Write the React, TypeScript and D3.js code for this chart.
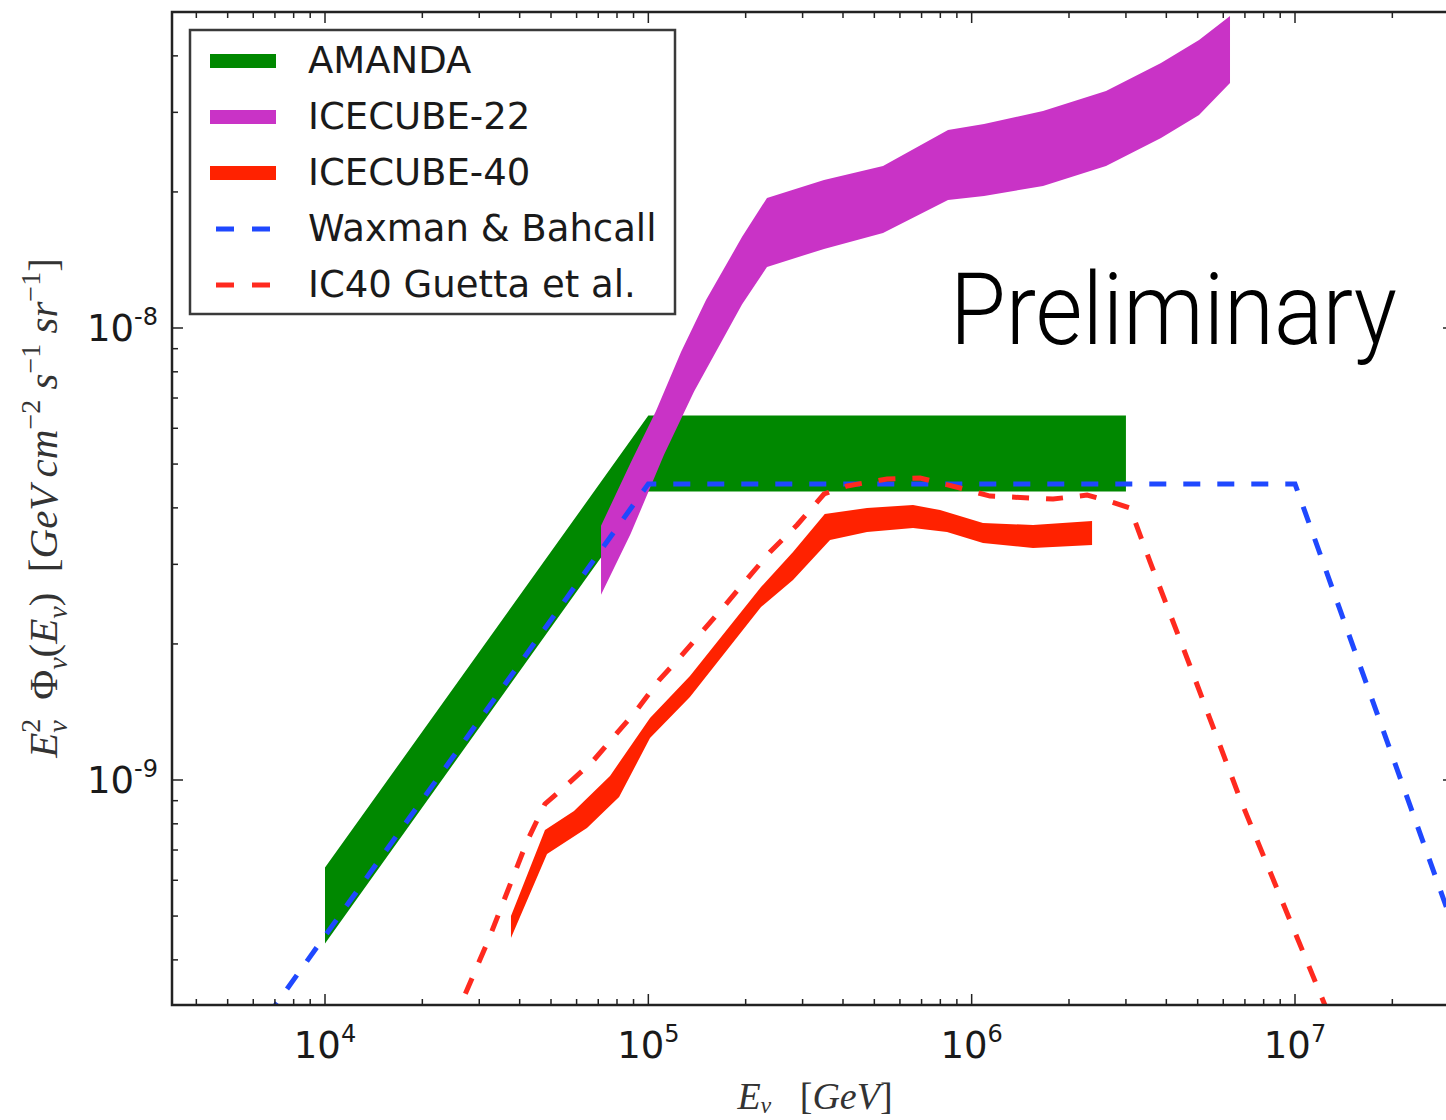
import React from "react";
import * as d3 from "d3";

// ---------- data (energy in GeV, E^2 Phi in GeV cm^-2 s^-1 sr^-1) ----------
const amandaE = [1e4, 1e5, 3e6];
const amandaHi = [6.4e-10, 6.4e-9, 6.4e-9];
const amandaLo = [4.35e-10, 4.35e-9, 4.35e-9];

const ic22UpE = [7.14e4, 8.81e4, 1.056e5, 1.262e5, 1.508e5, 1.948e5, 2.328e5, 3.494e5, 5.319e5, 8.45e5, 1.092e6, 1.662e6, 2.603e6, 3.851e6, 5.049e6, 6.295e6];
const ic22UpV = [3.65e-9, 5.03e-9, 6.55e-9, 8.85e-9, 1.153e-8, 1.589e-8, 1.94e-8, 2.125e-8, 2.283e-8, 2.742e-8, 2.827e-8, 3.021e-8, 3.344e-8, 3.857e-8, 4.337e-8, 4.9e-8];
const ic22LoE = [7.14e4, 8.81e4, 1.118e5, 1.385e5, 1.948e5, 2.328e5, 3.494e5, 5.319e5, 8.45e5, 1.092e6, 1.662e6, 2.603e6, 3.851e6, 5.049e6, 6.295e6];
const ic22LoV = [2.57e-9, 3.5e-9, 5.24e-9, 7.24e-9, 1.127e-8, 1.365e-8, 1.496e-8, 1.622e-8, 1.92e-8, 1.959e-8, 2.061e-8, 2.283e-8, 2.633e-8, 2.959e-8, 3.483e-8];

const ic40UpE = [3.76e4, 4.79e4, 5.89e4, 7.61e4, 1.012e5, 1.345e5, 2.231e5, 2.802e5, 3.513e5, 4.746e5, 6.586e5, 7.983e5, 1.084e6, 1.548e6, 2.357e6];
const ic40UpV = [5.0e-10, 7.75e-10, 8.54e-10, 1.021e-9, 1.371e-9, 1.698e-9, 2.673e-9, 3.195e-9, 3.877e-9, 3.997e-9, 4.058e-9, 3.956e-9, 3.703e-9, 3.666e-9, 3.741e-9];
const ic40LoE = [3.76e4, 4.86e4, 6.46e4, 8.12e4, 1.012e5, 1.345e5, 2.231e5, 2.802e5, 3.647e5, 4.746e5, 6.586e5, 8.389e5, 1.084e6, 1.548e6, 2.357e6];
const ic40LoV = [4.47e-10, 6.86e-10, 7.83e-10, 9.17e-10, 1.238e-9, 1.526e-9, 2.413e-9, 2.77e-9, 3.396e-9, 3.537e-9, 3.609e-9, 3.537e-9, 3.344e-9, 3.261e-9, 3.311e-9];

const wbE = [5e3, 1e5, 1e7, 1e8];
const wbV = [2.26e-10, 4.52e-9, 4.52e-9, 4.52e-11];

const guettaE = [2.47e4, 3.22e4, 4.22e4, 4.79e4, 5.68e4, 6.7e4, 9.16e4, 1.08e5, 1.262e5, 1.739e5, 2.379e5, 2.884e5, 3.495e5, 4.118e5, 5.473e5, 6.924e5, 9.21e5, 1.14e6, 1.786e6, 2.275e6, 2.586e6, 3.09e6, 3.563e6, 4.737e6, 6.765e6, 9.865e6, 1.312e7];
const guettaV = [2.87e-10, 4.47e-10, 7.33e-10, 8.85e-10, 9.85e-10, 1.096e-9, 1.421e-9, 1.664e-9, 1.88e-9, 2.451e-9, 3.195e-9, 3.666e-9, 4.293e-9, 4.472e-9, 4.634e-9, 4.657e-9, 4.425e-9, 4.248e-9, 4.184e-9, 4.27e-9, 4.163e-9, 3.996e-9, 3.037e-9, 1.787e-9, 9.08e-10, 4.71e-10, 2.87e-10];

const legendLabels = ["AMANDA", "ICECUBE-22", "ICECUBE-40", "Waxman & Bahcall", "IC40 Guetta et al."];
const watermark = "Preliminary";

// ---------- colours ----------
const GREEN = "#008800";
const MAGENTA = "#c933c6";
const RED = "#ff2200";
const BLUE = "#1f48ff";
const RED_DASH = "#ff2a1f";

const W = 1446;
const H = 1120;
const PL = 172, PR = 1454, PT = 12, PB = 1005;

export default function App() {
  const x = d3.scaleLog().domain([1e4, 1e7]).range([325, 1295]);
  const y = d3.scaleLog().domain([1e-9, 1e-8]).range([780, 328]);

  const line = d3.line<[number, number]>();
  const band = (uE: number[], uV: number[], lE: number[], lV: number[]) => {
    const up = uE.map((e, i) => [x(e), y(uV[i])] as [number, number]);
    const lo = lE.map((e, i) => [x(e), y(lV[i])] as [number, number]).reverse();
    return line(up.concat(lo)) + "Z";
  };
  const path = (es: number[], vs: number[]) =>
    line(es.map((e, i) => [x(e), y(vs[i])] as [number, number])) as string;

  // ticks
  const xMin = x.invert(PL), xMax = x.invert(PR);
  const yMin = y.invert(PB), yMax = y.invert(PT);
  const logTicks = (lo: number, hi: number) => {
    const major: number[] = [];
    const minor: number[] = [];
    for (let p = Math.floor(Math.log10(lo)); p <= Math.ceil(Math.log10(hi)); p++) {
      for (let k = 1; k <= 9; k++) {
        const v = k * Math.pow(10, p);
        if (v < lo * 0.999 || v > hi * 1.001) continue;
        if (k === 1) major.push(v);
        else minor.push(v);
      }
    }
    return { major, minor };
  };
  const xt = logTicks(xMin, xMax);
  const yt = logTicks(yMin, yMax);

  const tickColor = "#222";
  const MAJ = 11, MIN = 6;

  const sansTick = "'DejaVu Sans', 'Bitstream Vera Sans', sans-serif";
  const serif = "'Liberation Serif', 'DejaVu Serif', serif";

  return (
    <svg
      width={W}
      height={H}
      viewBox={`0 0 ${W} ${H}`}
      style={{ position: "absolute", left: 0, top: 0, display: "block", background: "#fff" }}
    >
      <defs>
        <clipPath id="plotClip">
          <rect x={PL} y={PT} width={PR - PL} height={PB - PT} />
        </clipPath>
      </defs>
      <rect x={0} y={0} width={W} height={H} fill="#fff" />

      <g clipPath="url(#plotClip)">
        <path d={band(amandaE, amandaHi, amandaE, amandaLo)} fill={GREEN} />
        <path d={band(ic22UpE, ic22UpV, ic22LoE, ic22LoV)} fill={MAGENTA} />
        <path d={band(ic40UpE, ic40UpV, ic40LoE, ic40LoV)} fill={RED} />
        <path d={path(wbE, wbV)} fill="none" stroke={BLUE} strokeWidth={5} strokeDasharray="17 17" />
        <path d={path(guettaE, guettaV)} fill="none" stroke={RED_DASH} strokeWidth={5} strokeDasharray="17 17" />
      </g>

      {/* ticks */}
      <g stroke={tickColor} strokeWidth={1.5}>
        {xt.major.map((v) => (
          <g key={"xM" + v}>
            <line x1={x(v)} x2={x(v)} y1={PB} y2={PB - MAJ} />
            <line x1={x(v)} x2={x(v)} y1={PT} y2={PT + MAJ} />
          </g>
        ))}
        {xt.minor.map((v) => (
          <g key={"xm" + v}>
            <line x1={x(v)} x2={x(v)} y1={PB} y2={PB - MIN} />
            <line x1={x(v)} x2={x(v)} y1={PT} y2={PT + MIN} />
          </g>
        ))}
        {yt.major.map((v) => (
          <g key={"yM" + v}>
            <line x1={PL} x2={PL + MAJ} y1={y(v)} y2={y(v)} />
            <line x1={PR} x2={PR - MAJ} y1={y(v)} y2={y(v)} />
          </g>
        ))}
        {yt.minor.map((v) => (
          <g key={"ym" + v}>
            <line x1={PL} x2={PL + MIN} y1={y(v)} y2={y(v)} />
            <line x1={PR} x2={PR - MIN} y1={y(v)} y2={y(v)} />
          </g>
        ))}
      </g>

      {/* spines */}
      <rect x={PL} y={PT} width={PR - PL} height={PB - PT} fill="none" stroke="#222" strokeWidth={2.5} />

      {/* tick labels */}
      <g fill="#1a1a1a" fontFamily={sansTick}>
        {xt.major.map((v) => (
          <text key={"xl" + v} x={x(v)} y={1058} fontSize={37} textAnchor="middle">
            10
            <tspan fontSize={24} dy={-16}>{String(Math.round(Math.log10(v)))}</tspan>
          </text>
        ))}
        {yt.major.map((v) => (
          <text key={"yl" + v} x={158} y={y(v) + 13} fontSize={37} textAnchor="end">
            10
            <tspan fontSize={24} dy={-16}>{String(Math.round(Math.log10(v))).replace("−", "-")}</tspan>
          </text>
        ))}
      </g>

      {/* axis labels */}
      <text x={815} y={1109} fontFamily={serif} fontSize={38} fill="#333" textAnchor="middle" xmlSpace="preserve">
        <tspan fontStyle="italic">E</tspan>
        <tspan fontStyle="italic" fontSize={24} dy={4}>ν</tspan>
        <tspan dy={-4}>{"\u00a0\u00a0\u00a0["}</tspan>
        <tspan fontStyle="italic">GeV</tspan>
        <tspan>]</tspan>
      </text>

      <text
        transform="translate(57,508) rotate(-90)"
        fontFamily={serif}
        fontSize={41}
        fill="#333"
        textAnchor="middle"
        xmlSpace="preserve"
      >
        <tspan fontStyle="italic">E</tspan>
        <tspan fontSize={28} dy={-17}>2</tspan>
        <tspan fontStyle="italic" fontSize={28} dx={-14} dy={27}>ν</tspan>
        <tspan dy={-10}>{"\u00a0\u00a0Φ"}</tspan>
        <tspan fontStyle="italic" fontSize={28} dy={10}>ν</tspan>
        <tspan dy={-10}>(</tspan>
        <tspan fontStyle="italic">E</tspan>
        <tspan fontStyle="italic" fontSize={28} dy={10}>ν</tspan>
        <tspan dy={-10}>{")\u00a0\u00a0["}</tspan>
        <tspan fontStyle="italic">{"GeV\u2009cm"}</tspan>
        <tspan fontSize={28} dy={-17}>−2</tspan>
        <tspan fontStyle="italic" dy={17}>{"\u00a0s"}</tspan>
        <tspan fontSize={28} dy={-17}>−1</tspan>
        <tspan fontStyle="italic" dy={17}>{"\u00a0sr"}</tspan>
        <tspan fontSize={28} dy={-17}>−1</tspan>
        <tspan dy={17}>]</tspan>
      </text>

      {/* legend */}
      <g>
        <rect x={190} y={30} width={485} height={284} fill="#fff" stroke="#3a3a3a" strokeWidth={2.5} />
        {legendLabels.map((lab, i) => {
          const cy = 61 + i * 56;
          const fills = [GREEN, MAGENTA, RED];
          return (
            <g key={lab}>
              {i < 3 ? (
                <rect x={210} y={cy - 7} width={66} height={14} fill={fills[i]} />
              ) : (
                <line
                  x1={216}
                  x2={270}
                  y1={cy}
                  y2={cy}
                  stroke={i === 3 ? BLUE : RED_DASH}
                  strokeWidth={5}
                  strokeDasharray="18 18"
                />
              )}
              <text x={308} y={cy + 12} fontFamily={sansTick} fontSize={37} fill="#1a1a1a">
                {lab}
              </text>
            </g>
          );
        })}
      </g>

      {/* watermark */}
      <text
        x={950}
        y={344}
        fontFamily="Roboto, 'Liberation Sans', sans-serif"
        fontWeight={300}
        fontSize={100}
        fill="#000"
        textLength={447}
        lengthAdjust="spacingAndGlyphs"
      >
        {watermark}
      </text>
    </svg>
  );
}
